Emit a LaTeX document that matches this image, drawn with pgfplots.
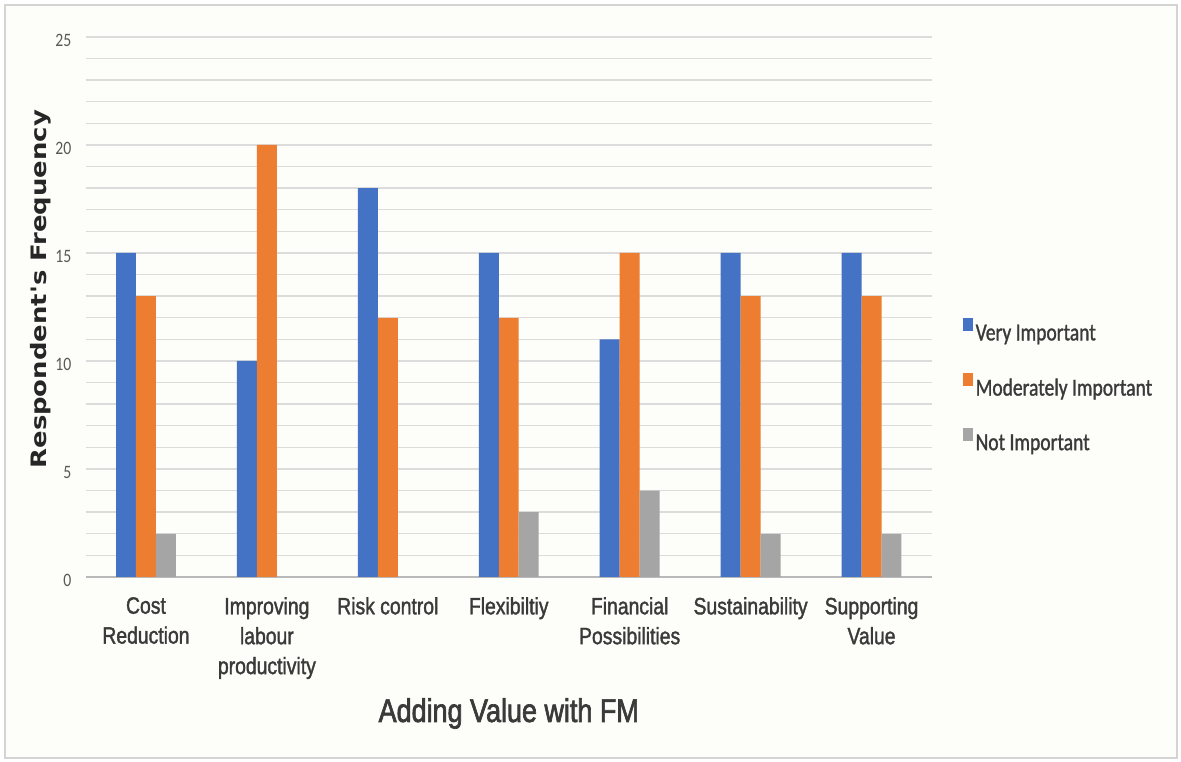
\documentclass[border=0pt]{standalone}
\usepackage{pgfplots}
\pgfplotsset{compat=1.18}
\usepackage{fontspec}
\setmainfont{Liberation Sans}
\newfontfamily\arialn[FakeStretch=0.82,FakeBold=1.5]{Liberation Sans}
\newfontfamily\arialt[FakeStretch=0.82,FakeBold=2]{Liberation Sans}
\newfontfamily\calib[FakeStretch=0.8,FakeBold=1.2]{Carlito}
\newfontfamily\calibt[FakeStretch=0.83]{Carlito}
\newfontfamily\dvs{DejaVu Sans}
\definecolor{cblue}{HTML}{4472C4}
\definecolor{corange}{HTML}{ED7D31}
\definecolor{cgray}{HTML}{A5A5A5}
\definecolor{bgc}{RGB}{253,253,249}
\definecolor{framec}{HTML}{D4D4D4}
\definecolor{gridc}{HTML}{DCDCDC}
\definecolor{txt}{HTML}{3A3A3A}
\definecolor{tickc}{HTML}{595959}
\begin{document}
\begin{tikzpicture}
\fill[white] (0bp,0bp) rectangle (1181bp,762bp);
\filldraw[fill=bgc, draw=framec, line width=1.5bp] (5bp,4bp) rectangle (1177bp,757bp);
\begin{axis}[
  at={(85.5bp,185bp)}, anchor=south west,
  scale only axis, width=846.5bp, height=540bp,
  ybar, bar width=0.165,
  xmin=-0.5, xmax=6.5, ymin=0, ymax=25,
  xtick={0,1,2,3,4,5,6},
  xticklabels={{Cost\\Reduction},{Improving\\labour\\productivity},{Risk control},{Flexibiltiy},{Financial\\Possibilities},{Sustainability},{Supporting\\Value}},
  ytick={0,5,10,15,20,25},
  minor y tick num=4,
  ymajorgrids, yminorgrids,
  major grid style={draw=gridc, line width=1.4bp},
  minor grid style={draw=gridc, line width=1.4bp},
  axis lines*=left,
  y axis line style={draw=none},
  x axis line style={draw=gray!55, line width=1.5bp},
  major tick length=0pt, minor tick length=0pt,
  /pgf/number format/assume math mode=true,
  xticklabel style={align=center, font=\arialn\fontsize{23.7}{30}\selectfont, text=txt, anchor=north, inner sep=0pt, yshift=-20bp},
  yticklabel style={font=\calibt\fontsize{19}{22}\selectfont, text=tickc, anchor=east, inner sep=0pt, xshift=-14bp, yshift=-3bp},
  xlabel={Adding Value with FM},
  xlabel style={at={(axis description cs:0.5,-0.2685)}, anchor=base, font=\arialt\fontsize{33}{36}\selectfont, text=txt},
  ylabel={\scalebox{1}[0.82]{Respondent's Frequency}},
  ylabel style={at={(axis description cs:-0.0526,0.533)}, anchor=center, font=\dvs\bfseries\fontsize{26}{30}\selectfont, text=black!85},
  legend style={at={(axis description cs:1.0366,0.3556)}, anchor=west, draw=none, fill=none,
    font=\calib\fontsize{24.5}{28}\selectfont, text=txt, row sep=31bp, inner sep=0pt,
    nodes={inner xsep=2.5bp, inner ysep=0pt}},
  legend cell align=left,
  legend image code/.code={\fill[#1] (0bp,2bp) rectangle (10bp,15bp);},
]
\addplot[fill=cblue, draw=none, bar shift=-0.165] coordinates {(0,15) (1,10) (2,18) (3,15) (4,11) (5,15) (6,15)};
\addplot[fill=corange, draw=none, bar shift=0] coordinates {(0,13) (1,20) (2,12) (3,12) (4,15) (5,13) (6,13)};
\addplot[fill=cgray, draw=none, bar shift=0.165] coordinates {(0,2) (1,0) (2,0) (3,3) (4,4) (5,2) (6,2)};
\legend{Very Important, Moderately Important, Not Important}
\end{axis}
\end{tikzpicture}
\end{document}
